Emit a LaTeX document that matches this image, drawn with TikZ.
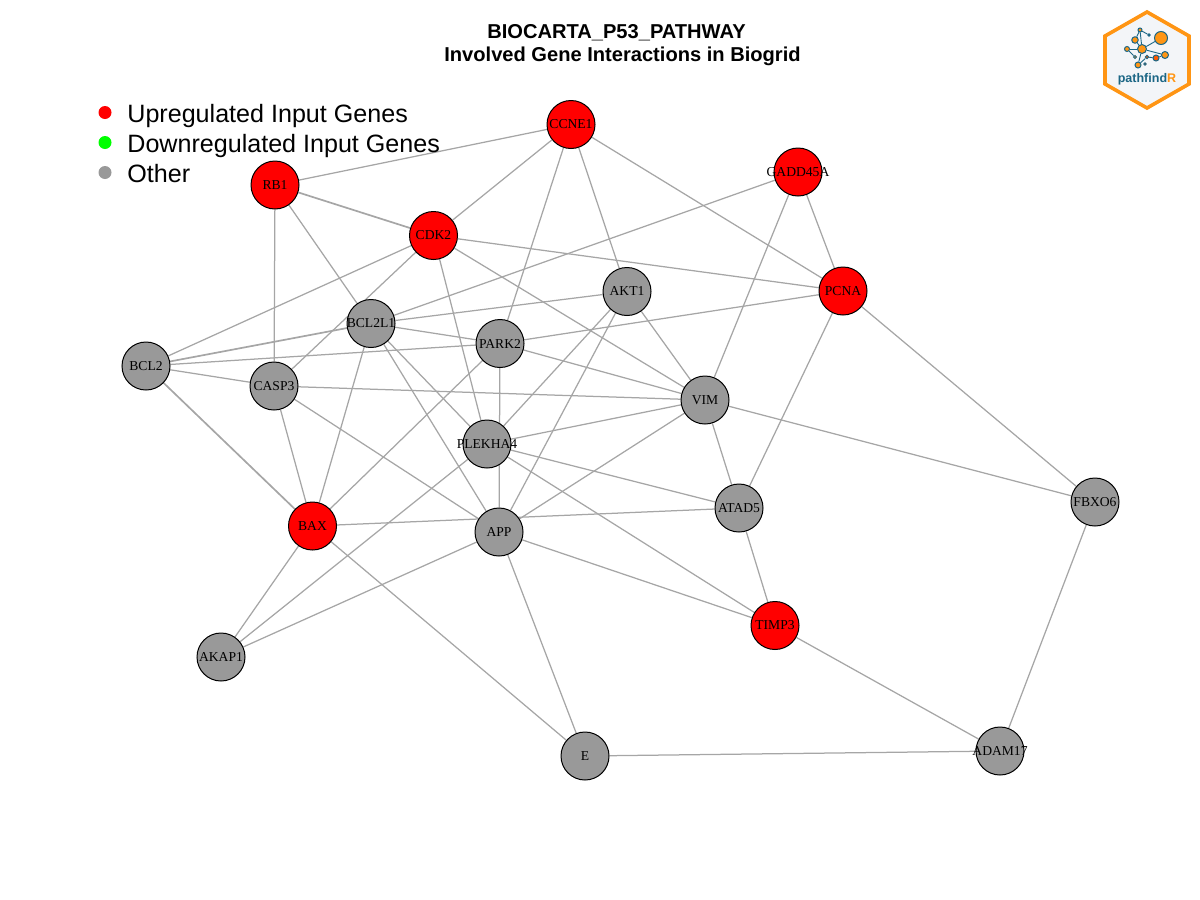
\documentclass[tikz,border=0pt]{standalone}
\usepackage{fontspec}
\setmainfont{Liberation Sans}
\newfontfamily\genefont{Liberation Serif}
\usetikzlibrary{positioning,backgrounds}
\definecolor{edgegrey}{HTML}{A6A6A6}
\definecolor{nodegrey}{HTML}{999999}
\definecolor{logoorange}{HTML}{FF9514}
\definecolor{logoteal}{HTML}{1B6685}
\definecolor{logopale}{HTML}{F3F5F8}
\newcommand{\gn}[1]{\makebox[0pt]{#1}}
\tikzset{geneother/.style={circle,draw=black,fill=nodegrey,line width=1pt,
inner sep=0pt,minimum size=48pt,font=\genefont\fontsize{13.6}{13.6}\selectfont}}
\tikzset{geneup/.style={geneother,fill=red}}
\tikzset{link/.style={draw=edgegrey,line width=1.25pt}}
\tikzset{linkdouble/.style={draw=edgegrey,line width=1.7pt}}
\tikzset{legdot/.style={circle,draw=none,inner sep=0pt,minimum size=13pt}}
\tikzset{legtext/.style={inner sep=0pt,font=\fontsize{25.1}{25.1}\selectfont}}
\tikzset{logodot/.style={circle,draw=logoteal,fill=logoorange,line width=1pt,inner sep=0pt}}
\tikzset{logolink/.style={draw=logoteal,line width=0.9pt}}

\begin{document}
\begin{tikzpicture}[x=1pt,y=-1pt]
        \useasboundingbox (0,0) rectangle (1200,900);

        \node[align=center,inner sep=0pt,font=\bfseries\fontsize{20.1}{23.6}\selectfont] (title) at (622.5,45) {BIOCARTA\_P53\_PATHWAY\hspace*{12pt}\\Involved Gene Interactions in Biogrid};

        % legend
        \node[legdot,fill=red] (dotUp) at (105,112.5) {};
        \node[legdot,fill=green] (dotDown) at (105,142.5) {};
        \node[legdot,fill=nodegrey] (dotOther) at (105,172.5) {};
        \node[legtext] (legUp) [base right=15.5pt of dotUp,yshift=-10pt] {Upregulated Input Genes};
        \node[legtext] (legDown) [base right=15.5pt of dotDown,yshift=-10pt] {Downregulated Input Genes};
        \node[legtext] (legOther) [base right=15.5pt of dotOther,yshift=-10pt] {Other};

        % genes
        \node[geneup] (CCNE) at (571,124.5) {\gn{CCNE1}};
        \node[geneup] (GADD) at (798,172) {\gn{GADD45A}};
        \node[geneup] (RB) at (275,185) {\gn{RB1}};
        \node[geneup] (CDK) at (433.5,235.5) {\gn{CDK2}};
        \node[geneup] (PCNA) at (843,291) {\gn{PCNA}};
        \node[geneup] (BAX) at (312.5,526) {\gn{BAX}};
        \node[geneup] (TIMP) at (775,625.5) {\gn{TIMP3}};
        \node[geneother] (AKT) at (627,291.5) {\gn{AKT1}};
        \node[geneother] (BCLL) at (371,323.5) {\gn{BCL2L1}};
        \node[geneother] (PARK) at (500,343.5) {\gn{PARK2}};
        \node[geneother] (BCL) at (146,366) {\gn{BCL2}};
        \node[geneother] (CASP) at (274,386) {\gn{CASP3}};
        \node[geneother] (VIM) at (705,400) {\gn{VIM}};
        \node[geneother] (PLEK) at (487,444) {\gn{PLEKHA4}};
        \node[geneother] (APP) at (499,532) {\gn{APP}};
        \node[geneother] (ATAD) at (739,508) {\gn{ATAD5}};
        \node[geneother] (FBXO) at (1095,502) {\gn{FBXO6}};
        \node[geneother] (AKAP) at (221,657) {\gn{AKAP1}};
        \node[geneother] (E) at (585,756) {\gn{E}};
        \node[geneother] (ADAM) at (1000,751) {\gn{ADAM17}};

        % interactions
        \begin{scope}[on background layer]
        \draw[link] (CCNE) -- (RB);
        \draw[link] (CCNE) -- (CDK);
        \draw[link] (CCNE) -- (PARK);
        \draw[link] (CCNE) -- (AKT);
        \draw[link] (CCNE) -- (PCNA);
        \draw[link] (GADD) -- (BCLL);
        \draw[link] (GADD) -- (VIM);
        \draw[link] (GADD) -- (PCNA);
        \draw[linkdouble] (RB) -- (CDK);
        \draw[link] (RB) -- (BCLL);
        \draw[link] (RB) -- (CASP);
        \draw[link] (CDK) -- (PCNA);
        \draw[link] (CDK) -- (VIM);
        \draw[link] (CDK) -- (PLEK);
        \draw[link] (CDK) -- (BCL);
        \draw[link] (CDK) -- (CASP);
        \draw[link] (AKT) -- (BCLL);
        \draw[link] (AKT) -- (VIM);
        \draw[link] (AKT) -- (PLEK);
        \draw[link] (AKT) -- (APP);
        \draw[link] (PCNA) -- (PARK);
        \draw[link] (PCNA) -- (ATAD);
        \draw[link] (PCNA) -- (FBXO);
        \draw[link] (BCLL) -- (PARK);
        \draw[linkdouble] (BCLL) -- (BCL);
        \draw[link] (BCLL) -- (PLEK);
        \draw[link] (BCLL) -- (APP);
        \draw[link] (BCLL) -- (BAX);
        \draw[link] (PARK) -- (BCL);
        \draw[link] (PARK) -- (VIM);
        \draw[link] (PARK) -- (APP);
        \draw[link] (PARK) -- (BAX);
        \draw[link] (BCL) -- (CASP);
        \draw[linkdouble] (BCL) -- (BAX);
        \draw[link] (CASP) -- (VIM);
        \draw[link] (CASP) -- (BAX);
        \draw[link] (CASP) -- (APP);
        \draw[link] (VIM) -- (PLEK);
        \draw[link] (VIM) -- (APP);
        \draw[link] (VIM) -- (ATAD);
        \draw[link] (VIM) -- (FBXO);
        \draw[link] (PLEK) -- (ATAD);
        \draw[link] (PLEK) -- (TIMP);
        \draw[link] (PLEK) -- (AKAP);
        \draw[link] (BAX) -- (ATAD);
        \draw[link] (BAX) -- (AKAP);
        \draw[link] (BAX) -- (E);
        \draw[link] (APP) -- (AKAP);
        \draw[link] (APP) -- (E);
        \draw[link] (APP) -- (TIMP);
        \draw[link] (ATAD) -- (TIMP);
        \draw[link] (TIMP) -- (ADAM);
        \draw[link] (FBXO) -- (ADAM);
        \draw[link] (E) -- (ADAM);
        \end{scope}

        % logo
        \draw[draw=logoorange,fill=logopale,line width=3.6pt,line join=miter] (1147,12) -- (1189,36) -- (1189,84) -- (1147,108) -- (1105,84) -- (1105,36) -- cycle;
        \node[logodot,minimum size=13pt] (logoA) at (1161,38) {};
        \node[logodot,minimum size=9pt] (logoB) at (1142,49) {};
        \node[logodot,minimum size=6.5pt] (logoC) at (1135,40) {};
        \node[logodot,minimum size=4pt] (logoD) at (1140,30) {};
        \node[logodot,minimum size=2.5pt,fill=logoteal] (logoE) at (1149,35) {};
        \node[logodot,minimum size=5pt] (logoF) at (1127,49) {};
        \node[logodot,minimum size=3pt] (logoG) at (1135,57) {};
        \node[logodot,minimum size=7pt] (logoH) at (1165,55) {};
        \node[logodot,minimum size=6pt,fill=orange!70!red] (logoI) at (1156,58) {};
        \node[logodot,minimum size=3.5pt,fill=orange!70!red] (logoJ) at (1147,57) {};
        \node[logodot,minimum size=6pt] (logoK) at (1138,65) {};
        \node[logodot,minimum size=2.5pt,fill=orange!70!red] (logoL) at (1145,64) {};
        \draw[logolink] (logoB) -- (logoA);
        \draw[logolink] (logoB) -- (logoC);
        \draw[logolink] (logoC) -- (logoD);
        \draw[logolink] (logoD) -- (logoE);
        \draw[logolink] (logoB) -- (logoD);
        \draw[logolink] (logoB) -- (logoF);
        \draw[logolink] (logoF) -- (logoG);
        \draw[logolink] (logoB) -- (logoH);
        \draw[logolink] (logoB) -- (logoK);
        \draw[logolink] (logoJ) -- (logoK);
        \draw[logolink] (logoJ) -- (logoI);
        \draw[logolink] (logoI) -- (logoH);
        \node[inner sep=0pt,font=\bfseries\fontsize{12.5}{12.5}\selectfont,text=logoteal] (logoName) at (1147,79) {pathfind\textcolor{logoorange}{R}};
\end{tikzpicture}
\end{document}
